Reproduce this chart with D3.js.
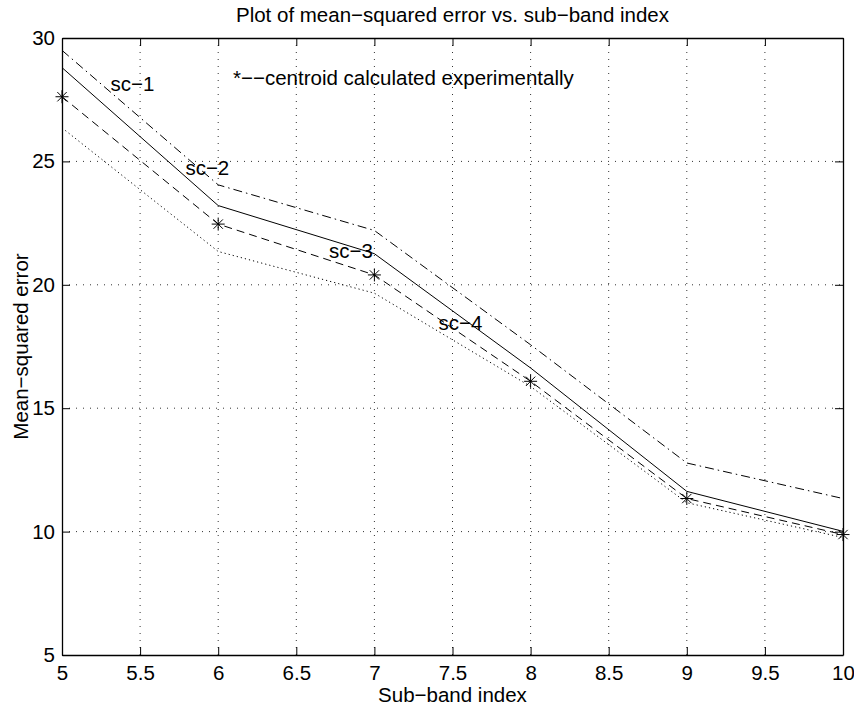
<!DOCTYPE html>
<html>
<head>
<meta charset="utf-8">
<script src="https://cdn.jsdelivr.net/npm/d3@7"></script>
<style>
  body { margin: 0; background: #fff; }
  text { font-family: "Liberation Sans", Arial, Helvetica, sans-serif; fill: #000; }
</style>
</head>
<body>
<svg width="854" height="708"></svg>
<script>
// data
var subBand = [5, 6, 7, 8, 9, 10];
var mseSolid   = [28.8, 23.21, 21.26, 16.63, 11.63, 10.01];
var mseStar    = [27.62, 22.46, 20.4, 16.09, 11.34, 9.88];
var mseDashDot = [29.5, 24.05, 22.2, 17.57, 12.78, 11.34];
var mseDotted  = [26.36, 21.35, 19.66, 15.88, 11.17, 9.76];

var xTicks = [5, 5.5, 6, 6.5, 7, 7.5, 8, 8.5, 9, 9.5, 10];
var yTicks = [5, 10, 15, 20, 25, 30];

var labelText = ["sc\u22121", "sc\u22122", "sc\u22123", "sc\u22124"];
var labelAt = [[5.31, 27.85], [5.79, 24.45], [6.71, 21.09], [7.41, 18.18]];
var noteText = "*\u2212\u2212centroid calculated experimentally";
var noteAt = [6.095, 28.1];

function main() {
    var svg = d3.select("svg"),
        margin = {top: 38, right: 11, bottom: 53, left: 62},
        width = svg.attr("width") - margin.left - margin.right,
        height = svg.attr("height") - margin.top - margin.bottom;
    var fs = "20.5px";

    var g = svg.append("g")
        .attr("transform", `translate(${margin.left},${margin.top})`);

    var x = d3.scaleLinear().domain([5, 10]).range([0, width]);
    var y = d3.scaleLinear().domain([5, 30]).range([height, 0]);

    // grid
    g.append("g")
      .selectAll("line")
      .data(xTicks.slice(1, -1))
      .join("line")
        .attr("x1", d => x(d)).attr("x2", d => x(d))
        .attr("y1", 0).attr("y2", height)
        .attr("stroke", "#333").attr("stroke-width", 1)
        .attr("stroke-dasharray", "1,6");
    g.append("g")
      .selectAll("line")
      .data(yTicks.slice(1, -1))
      .join("line")
        .attr("x1", 0).attr("x2", width)
        .attr("y1", d => y(d)).attr("y2", d => y(d))
        .attr("stroke", "#333").attr("stroke-width", 1)
        .attr("stroke-dasharray", "1,6");

    // axes, ticks inward on all four sides
    g.append("g")
      .attr("transform", `translate(0, ${height})`)
      .call(d3.axisBottom(x).tickValues(xTicks).tickFormat(d3.format("")).tickSizeInner(-8).tickSizeOuter(0).tickPadding(10));
    g.append("g")
      .call(d3.axisLeft(y).tickValues(yTicks).tickFormat(d3.format("")).tickSizeInner(-8).tickSizeOuter(0).tickPadding(7));
    g.append("g")
      .call(d3.axisTop(x).tickValues(xTicks).tickFormat("").tickSizeInner(-8).tickSizeOuter(0));
    g.append("g")
      .attr("transform", `translate(${width},0)`)
      .call(d3.axisRight(y).tickValues(yTicks).tickFormat("").tickSizeInner(-8).tickSizeOuter(0));
    g.selectAll(".domain").attr("stroke", "#000").attr("stroke-width", 1.3);
    g.selectAll(".tick line").attr("stroke", "#000");
    g.selectAll(".tick text")
      .attr("fill", "#000")
      .style("font-size", fs)
      .style("font-family", "'Liberation Sans', Arial, sans-serif");

    // lines
    var line = d3.line().x(d => x(d[0])).y(d => y(d[1]));
    var series = [
        {v: mseSolid, dash: null},
        {v: mseStar, dash: "8,5"},
        {v: mseDashDot, dash: "9,4,1.5,4"},
        {v: mseDotted, dash: "1.2,3"}
    ];
    g.selectAll(".series")
      .data(series)
      .join("path")
        .attr("class", "series")
        .attr("d", s => line(d3.zip(subBand, s.v)))
        .attr("fill", "none")
        .attr("stroke", "#000")
        .attr("stroke-width", 1)
        .attr("stroke-dasharray", s => s.dash);

    // star markers
    var r = 6.5, q = r * 0.72;
    g.selectAll(".star")
      .data(d3.zip(subBand, mseStar))
      .join("path")
        .attr("class", "star")
        .attr("transform", d => `translate(${x(d[0])},${y(d[1])})`)
        .attr("d", `M${-r},0H${r}M0,${-r}V${r}M${-q},${-q}L${q},${q}M${-q},${q}L${q},${-q}`)
        .attr("stroke", "#000")
        .attr("stroke-width", 1)
        .attr("fill", "none");

    // text labels
    g.selectAll(".lab")
      .data(labelText)
      .join("text")
        .attr("class", "lab")
        .attr("x", (d, i) => x(labelAt[i][0]))
        .attr("y", (d, i) => y(labelAt[i][1]))
        .style("font-size", fs)
        .text(d => d);
    g.append("text")
      .attr("x", x(noteAt[0]))
      .attr("y", y(noteAt[1]))
      .style("font-size", fs)
      .text(noteText);

    // title and axis labels
    svg.append("text")
      .attr("x", margin.left + width / 2).attr("y", 22)
      .attr("text-anchor", "middle")
      .style("font-size", fs)
      .text("Plot of mean\u2212squared error vs. sub\u2212band index");
    svg.append("text")
      .attr("x", margin.left + width / 2).attr("y", 702)
      .attr("text-anchor", "middle")
      .style("font-size", fs)
      .text("Sub\u2212band index");
    svg.append("text")
      .attr("transform", `translate(28, ${margin.top + height / 2}) rotate(-90)`)
      .attr("text-anchor", "middle")
      .style("font-size", fs)
      .text("Mean\u2212squared error");
}
main();
</script>
</body>
</html>
